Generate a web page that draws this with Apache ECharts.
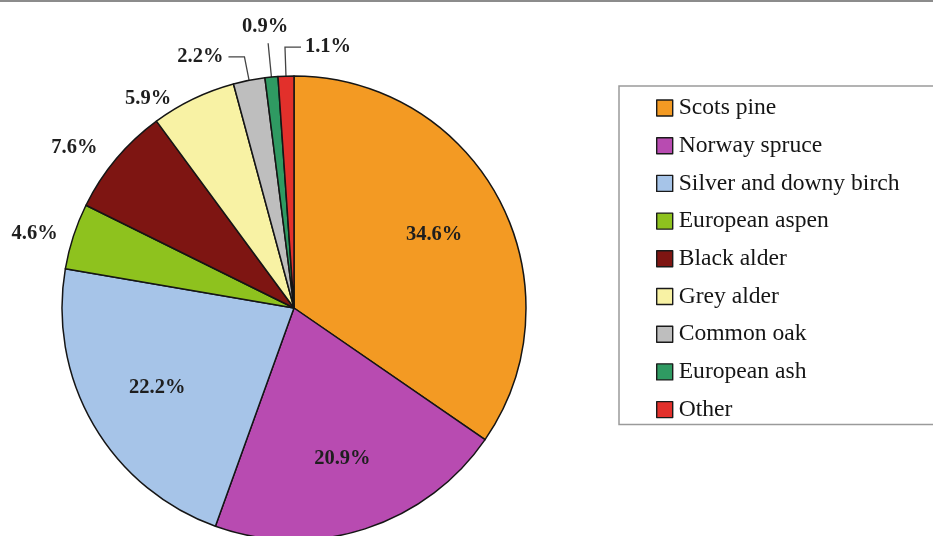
<!DOCTYPE html>
<html>
<head>
<meta charset="utf-8">
<script src="https://cdn.jsdelivr.net/npm/echarts@6/dist/echarts.min.js"></script>
<style>
  html, body { margin: 0; padding: 0; background: #ffffff; }
  #chart { width: 933px; height: 536px; }
</style>
</head>
<body>
<div id="chart"></div>
<script>
// Tree species composition (share of growing stock, %)
const species = ['Scots pine', 'Norway spruce', 'Silver and downy birch', 'European aspen',
                 'Black alder', 'Grey alder', 'Common oak', 'European ash', 'Other'];
const shares = [34.6, 20.9, 22.2, 4.6, 7.6, 5.9, 2.2, 0.9, 1.1];
const colors = ['#F39A23', '#B84BB1', '#A6C4E8', '#8EC21E', '#7E1512',
                '#F8F2A4', '#BEBEBE', '#2F9A62', '#E2302B'];

// pie geometry (pixels)
const CX = 294, CY = 308, R = 232;
// inside labels sit further out than the ring midpoint
const INSIDE_K = 1.33;

// how each slice's label is placed
const labelPlacement = [
  { pos: 'inside' },
  { pos: 'inside' },
  { pos: 'inside' },
  { pos: 'outside', length: 8, length2: 3 },
  { pos: 'outside', length: 18, length2: 0 },
  { pos: 'outside', length: 0, length2: 17 },
  { pos: 'outside', length: 24, length2: 16, line: true },
  { pos: 'outside', length: 34, length2: 0, line: true, above: true },
  { pos: 'outside', length: 29, length2: 16, line: true, flip: true }
];

const chart = echarts.init(document.getElementById('chart'), null, { renderer: 'canvas' });

const pieData = species.map((name, i) => {
  const pl = labelPlacement[i];
  return {
    name: name,
    value: shares[i],
    itemStyle: { color: colors[i] },
    label: { position: pl.pos },
    labelLine: { show: !!pl.line, length: pl.length || 0, length2: pl.length2 || 0 }
  };
});

chart.setOption({
  animation: false,
  backgroundColor: '#ffffff',
  graphic: [{
    type: 'rect',
    shape: { x: 0, y: 0, width: 933, height: 2 },
    style: { fill: '#8c8c8c' },
    silent: true
  }],
  legend: {
    orient: 'vertical',
    left: 619,
    top: 86,
    padding: [10, 60, 3, 37],
    borderColor: '#9a9a9a',
    borderWidth: 1.5,
    itemWidth: 16,
    itemHeight: 16,
    itemGap: 13.7,
    icon: 'rect',
    selectedMode: false,
    itemStyle: { borderColor: '#1a1a1a', borderWidth: 1.4 },
    textStyle: {
      fontFamily: 'Liberation Serif',
      fontSize: 23.6,
      lineHeight: 24,
      color: '#151515',
      padding: [0, 0, 0, 1]
    },
    data: species
  },
  series: [{
    type: 'pie',
    center: [CX, CY],
    radius: R,
    startAngle: 90,
    clockwise: true,
    avoidLabelOverlap: false,
    emphasis: { disabled: true },
    itemStyle: { borderColor: '#151515', borderWidth: 1.5 },
    label: {
      fontFamily: 'Liberation Serif',
      fontWeight: 'bold',
      fontSize: 20.5,
      color: '#1e1e1e',
      formatter: p => p.value.toFixed(1) + '%'
    },
    labelLine: { lineStyle: { color: '#444444', width: 1.3 } },
    labelLayout: function (p) {
      const pl = labelPlacement[p.dataIndex];
      const rect = p.labelRect;
      if (pl.pos === 'inside') {
        const mx = rect.x + rect.width / 2;
        const my = rect.y + rect.height / 2;
        return {
          x: CX + (mx - CX) * INSIDE_K,
          y: CY + (my - CY) * INSIDE_K,
          align: 'center',
          verticalAlign: 'middle'
        };
      }
      const pts = p.labelLinePoints;
      if (pl.above && pts) {
        const p2 = pts[1];
        return {
          x: p2[0] - 3,
          y: p2[1] - 6,
          align: 'center',
          verticalAlign: 'bottom',
          labelLinePoints: [pts[0], p2, p2]
        };
      }
      if (pl.flip && pts) {
        const p2 = pts[1];
        const p3 = [p2[0] + pl.length2, p2[1]];
        return {
          x: p3[0] + 4,
          y: p3[1],
          align: 'left',
          verticalAlign: 'middle',
          labelLinePoints: [pts[0], p2, p3]
        };
      }
      return {};
    },
    data: pieData
  }]
});
</script>
</body>
</html>
